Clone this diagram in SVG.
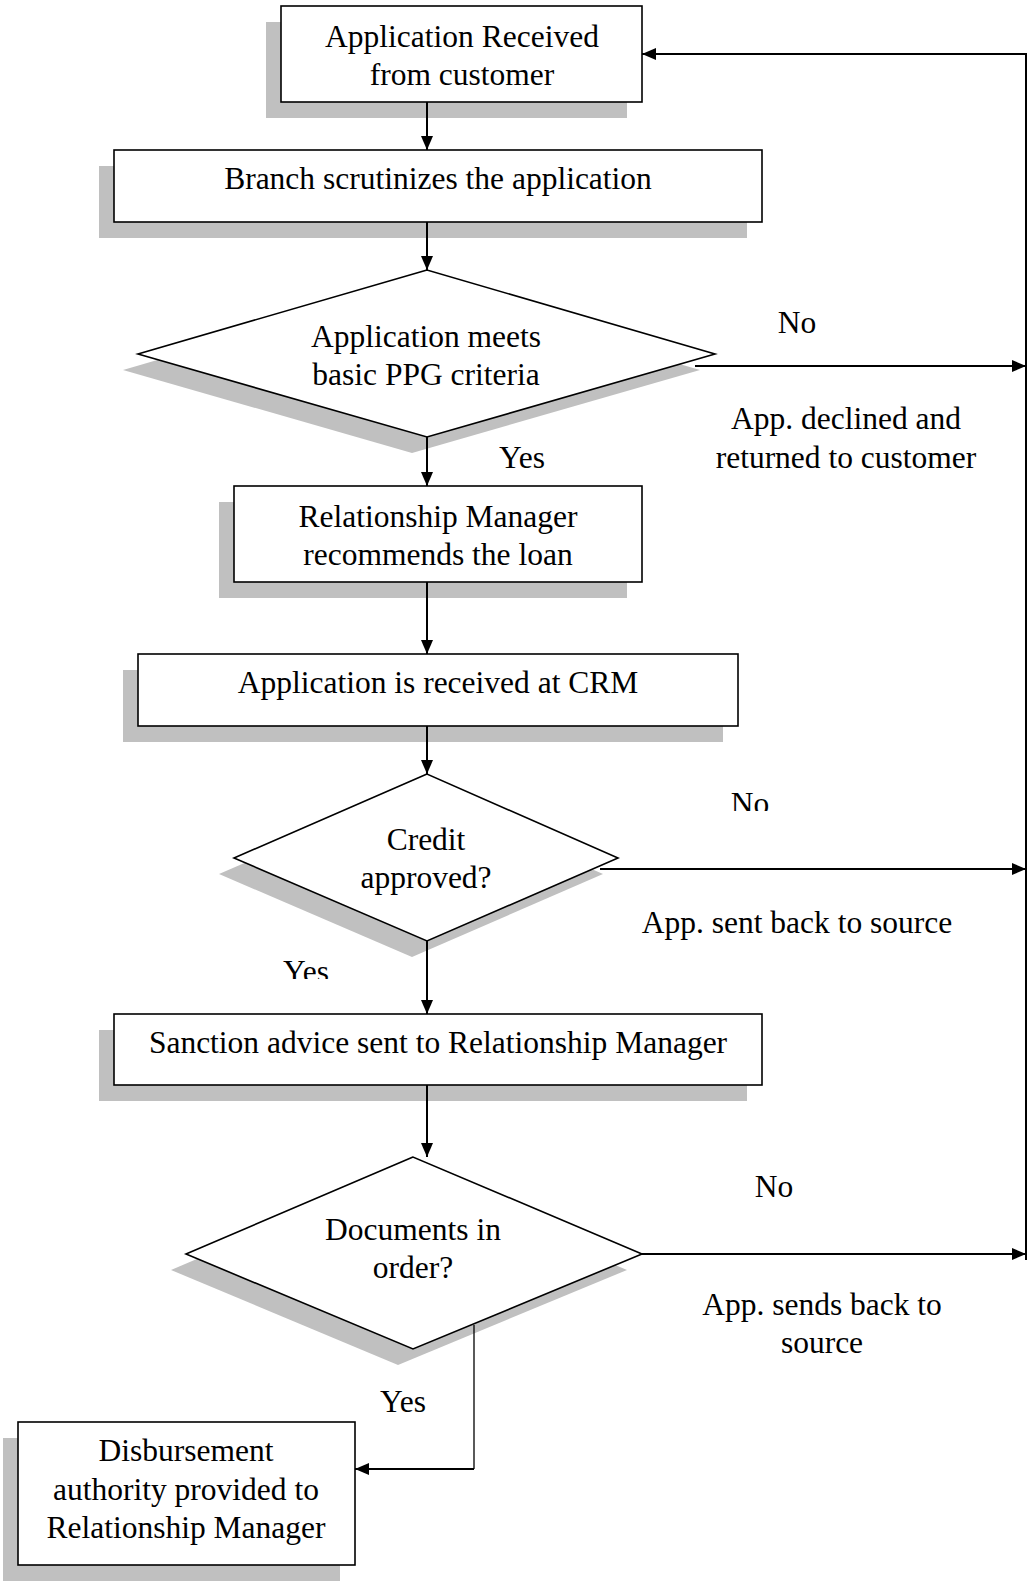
<svg xmlns="http://www.w3.org/2000/svg" width="1029" height="1581" viewBox="0 0 1029 1581">
<style>
.bg{fill:#ffffff}
.shadow{fill:#c0c0c0;stroke:none}
.shape{fill:#ffffff;stroke:#000000;stroke-width:1.6}
.conn{fill:none;stroke:#000000;stroke-width:2}
.thin{fill:none;stroke:#000000;stroke-width:1.3}
text{font-family:"Liberation Serif","Times New Roman",serif;font-size:31.5px;fill:#000000;text-anchor:middle}
</style>
<defs>
<marker id="arr" viewBox="0 0 14 12" refX="14" refY="6" markerWidth="14" markerHeight="12" markerUnits="userSpaceOnUse" orient="auto">
<path d="M0,0 L14,6 L0,12 z" fill="#000000"/>
</marker>
<clipPath id="clipNo2"><rect x="700" y="760" width="120" height="51"/></clipPath>
<clipPath id="clipYes2"><rect x="260" y="930" width="120" height="49"/></clipPath>
</defs>
<rect class="bg" x="0" y="0" width="1029" height="1581"/>

<g id="n1">
<rect class="shadow" x="266" y="22" width="361" height="96"/>
<rect class="shape" x="281" y="6" width="361" height="96"/>
<text x="462" y="47">Application Received</text>
<text x="462" y="85">from customer</text>
</g>

<g id="n2">
<rect class="shadow" x="99" y="166" width="648" height="72"/>
<rect class="shape" x="114" y="150" width="648" height="72"/>
<text x="438" y="189">Branch scrutinizes the application</text>
</g>

<g id="d1">
<polygon class="shadow" points="412,286 123,370 412,453 700,370"/>
<polygon class="shape" points="427,270 138,354 427,437 715,354"/>
<text x="426" y="347">Application meets</text>
<text x="426" y="385">basic PPG criteria</text>
</g>

<g id="n3">
<rect class="shadow" x="219" y="502" width="408" height="96"/>
<rect class="shape" x="234" y="486" width="408" height="96"/>
<text x="438" y="527">Relationship Manager</text>
<text x="438" y="565">recommends the loan</text>
</g>

<g id="n4">
<rect class="shadow" x="123" y="670" width="600" height="72"/>
<rect class="shape" x="138" y="654" width="600" height="72"/>
<text x="438" y="693">Application is received at CRM</text>
</g>

<g id="d2">
<polygon class="shadow" points="412,790 219,874 412,957 603,874"/>
<polygon class="shape" points="427,774 234,858 427,941 618,858"/>
<text x="426" y="850">Credit</text>
<text x="426" y="888">approved?</text>
</g>

<g id="n5">
<rect class="shadow" x="99" y="1030" width="648" height="71"/>
<rect class="shape" x="114" y="1014" width="648" height="71"/>
<text x="438" y="1053">Sanction advice sent to Relationship Manager</text>
</g>

<g id="d3">
<polygon class="shadow" points="398,1173 171,1270 398,1365 627,1270"/>
<polygon class="shape" points="413,1157 186,1254 413,1349 642,1254"/>
<text x="413" y="1240">Documents in</text>
<text x="413" y="1278">order?</text>
</g>

<g id="n6">
<rect class="shadow" x="3" y="1438" width="337" height="143"/>
<rect class="shape" x="18" y="1422" width="337" height="143"/>
<text x="186" y="1461">Disbursement</text>
<text x="186" y="1500">authority provided to</text>
<text x="186" y="1538">Relationship Manager</text>
</g>

<g id="connectors">
<line class="conn" x1="427" y1="102" x2="427" y2="150" marker-end="url(#arr)"/>
<line class="conn" x1="427" y1="222" x2="427" y2="270" marker-end="url(#arr)"/>
<line class="conn" x1="427" y1="437" x2="427" y2="486" marker-end="url(#arr)"/>
<line class="conn" x1="427" y1="582" x2="427" y2="654" marker-end="url(#arr)"/>
<line class="conn" x1="427" y1="726" x2="427" y2="774" marker-end="url(#arr)"/>
<line class="conn" x1="427" y1="941" x2="427" y2="1014" marker-end="url(#arr)"/>
<line class="conn" x1="427" y1="1085" x2="427" y2="1157" marker-end="url(#arr)"/>
<line class="conn" x1="695" y1="366" x2="1026" y2="366" marker-end="url(#arr)"/>
<line class="conn" x1="600" y1="869" x2="1026" y2="869" marker-end="url(#arr)"/>
<line class="conn" x1="642" y1="1254" x2="1026" y2="1254" marker-end="url(#arr)"/>
<polyline class="conn" points="1026,1260 1026,54 642,54" marker-end="url(#arr)"/>
<polyline class="thin" points="474,1325 474,1469"/>
<line class="conn" x1="474" y1="1469" x2="355" y2="1469" marker-end="url(#arr)"/>
<text x="797" y="333">No</text>
<text x="846" y="429">App. declined and</text>
<text x="846" y="468">returned to customer</text>
<text x="522" y="468">Yes</text>
<g clip-path="url(#clipNo2)"><text x="750" y="814">No</text></g>
<text x="797" y="933">App. sent back to source</text>
<g clip-path="url(#clipYes2)"><text x="306" y="982">Yes</text></g>
<text x="774" y="1197">No</text>
<text x="822" y="1315">App. sends back to</text>
<text x="822" y="1353">source</text>
<text x="403" y="1412">Yes</text>
</g>
</svg>
